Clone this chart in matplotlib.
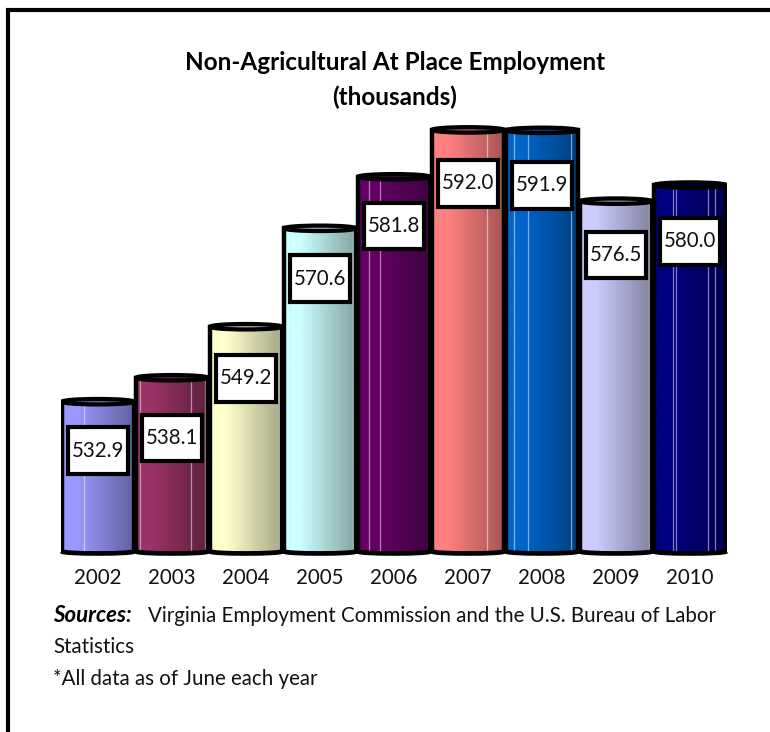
"""Non-agricultural employment, drawn as 3D-look cylinders."""

import numpy as np
import matplotlib.pyplot as plt
from matplotlib.colors import LinearSegmentedColormap
from matplotlib.patches import Arc, Ellipse, Rectangle

plt.rcParams["font.family"] = ["Lato", "DejaVu Sans"]

YEARS = ["2002", "2003", "2004", "2005", "2006", "2007", "2008", "2009", "2010"]
VALUES = [532.9, 538.1, 549.2, 570.6, 581.8, 592.0, 591.9, 576.5, 580.0]
VALUE_LABELS = ["532.9", "538.1", "549.2", "570.6", "581.8", "592.0", "591.9", "576.5", "580.0"]
LABEL_Y = [522.2, 525.0, 538.0, 559.6, 571.1, 580.4, 580.0, 564.8, 567.8]
BAR_LIGHT = ["#9999ff", "#993366", "#ffffcc", "#ccffff", "#660066",
             "#ff8080", "#0066cc", "#ccccff", "#000080"]
BAR_DARK = ["#62629f", "#5f2040", "#a8a888", "#84a3a3", "#400040",
            "#a65454", "#004080", "#82829f", "#000050"]
# highlight stripes, as fractions of the bar width
STRIPES = [[0.31, 0.97], [0.06, 0.77, 0.96], [0.96], [0.12, 0.96], [0.15, 0.31, 0.97],
           [0.77], [0.11, 0.30, 0.91], [0.96], [0.27, 0.31, 0.75, 0.85]]

W, H = 770, 732
Y_MIN, Y_MAX = 500, 598.5
BAR_W = 0.97
TEXT_COLOR = "#111111"
BODY_SIZE = 14.8

fig = plt.figure(figsize=(W / 100, H / 100), dpi=100)

# outer frame, only top and left show on the cropped page
frame = fig.add_axes([0, 0, 1, 1])
frame.set_xlim(0, W)
frame.set_ylim(H, 0)
frame.axis("off")
frame.plot([7.5, 7.5, W], [H, 10, 10], color="black", lw=3,
           solid_joinstyle="miter")

ax = fig.add_axes([61 / W, (H - 553) / H, 666 / W, 453 / H])
ax.set_xlim(-0.5, 8.5)
ax.set_ylim(Y_MIN, Y_MAX)
ax.patch.set_alpha(0)
for spine in ax.spines.values():
    spine.set_visible(False)
ax.set_yticks([])
ax.set_xticks(range(len(YEARS)), YEARS, fontsize=BODY_SIZE, color=TEXT_COLOR)
ax.tick_params(axis="x", length=0, pad=11)

for i, (val, light, dark) in enumerate(zip(VALUES, BAR_LIGHT, BAR_DARK)):
    left, right = i - BAR_W / 2, i + BAR_W / 2

    # horizontal shading across the cylinder
    cmap = LinearSegmentedColormap.from_list(
        f"bar{i}", [(0, light), (0.22, light), (1, dark)])
    ax.imshow(np.linspace(0, 1, 128)[None, :], cmap=cmap, aspect="auto",
              extent=(left, right, Y_MIN, val), zorder=2)

    for frac in STRIPES[i]:
        ax.plot([left + frac * BAR_W] * 2, [Y_MIN, val], color="white",
                lw=0.9, alpha=0.5, zorder=3)

    # outline, curved bottom and top cap
    ax.plot([left, left], [Y_MIN + 0.3, val], color="black", lw=3.2, zorder=4)
    ax.plot([right, right], [Y_MIN + 0.3, val], color="black", lw=3.2, zorder=4)
    ax.add_patch(Arc((i, Y_MIN + 0.35), BAR_W, 0.9, theta1=180, theta2=360,
                     edgecolor="black", lw=3.4, zorder=4, clip_on=False))
    ax.add_patch(Ellipse((i, val), BAR_W, 1.2, facecolor=dark,
                         edgecolor="black", lw=3, zorder=5))

    # value box
    ax.add_patch(Rectangle((i - 0.41, LABEL_Y[i] - 5.1), 0.82, 10.2,
                           facecolor="white", edgecolor="black", lw=3, zorder=6))
    ax.text(i, LABEL_Y[i], VALUE_LABELS[i], ha="center", va="center",
            fontsize=BODY_SIZE, color=TEXT_COLOR, zorder=7)

# imshow resets limits
ax.set_xlim(-0.5, 8.5)
ax.set_ylim(Y_MIN, Y_MAX)

frame.text(395, 62, "Non-Agricultural At Place Employment", ha="center", va="center",
           fontsize=17.5, fontweight="bold", color="black")
frame.text(395, 97, "(thousands)", ha="center", va="center",
           fontsize=17.5, fontweight="bold", color="black")

frame.text(53, 616, "Sources:", ha="left", va="center", fontsize=16,
           fontweight="bold", fontstyle="italic", color="black")
frame.text(148, 616, "Virginia Employment Commission and the U.S. Bureau of Labor",
           ha="left", va="center", fontsize=BODY_SIZE, color=TEXT_COLOR)
frame.text(53, 647, "Statistics", ha="left", va="center", fontsize=BODY_SIZE, color=TEXT_COLOR)
frame.text(53, 679, "*All data as of June each year", ha="left", va="center",
           fontsize=BODY_SIZE, color=TEXT_COLOR)

fig.savefig("out.png", dpi=100)
